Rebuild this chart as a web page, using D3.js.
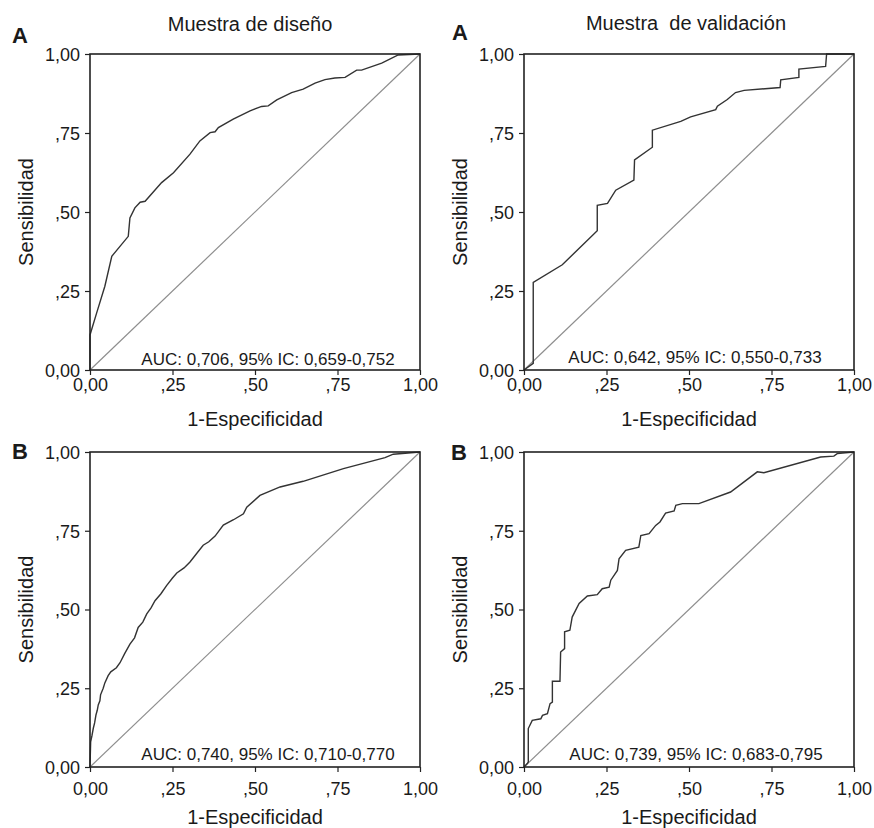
<!DOCTYPE html>
<html>
<head>
<meta charset="utf-8">
<script src="https://cdn.jsdelivr.net/npm/d3@7"></script>
<style>
  body { margin: 0; background: #fff; }
  text { font-family: "Liberation Sans", Arial, Helvetica, sans-serif; fill: #1a1a1a; }
</style>
</head>
<body>
<svg width="874" height="828"></svg>
<script>
// Ticks and labels (Spanish decimal comma)
const tickValues = [0, 0.25, 0.5, 0.75, 1];
const tickLabels = ['0,00', ',25', ',50', ',75', '1,00'];
const columnTitles = ['Muestra de diseño', 'Muestra  de validación'];
const rowLetters = ['A', 'B'];
const aucLabels = [
  'AUC: 0,706, 95% IC: 0,659-0,752',
  'AUC: 0,642, 95% IC: 0,550-0,733',
  'AUC: 0,740, 95% IC: 0,710-0,770',
  'AUC: 0,739, 95% IC: 0,683-0,795'
];

// ROC curves: [1-especificidad, sensibilidad]
const rocDisenoA = [[0,0],[0,0.111],[0.020,0.18],[0.045,0.265],[0.066,0.36],[0.116,0.423],[0.121,0.481],
  [0.136,0.513],[0.152,0.531],[0.167,0.534],[0.217,0.593],[0.253,0.624],[0.303,0.683],[0.333,0.725],
  [0.364,0.751],[0.379,0.754],[0.389,0.767],[0.434,0.794],[0.485,0.820],[0.520,0.834],[0.540,0.836],
  [0.566,0.855],[0.611,0.878],[0.646,0.889],[0.682,0.908],[0.712,0.919],[0.742,0.924],[0.773,0.926],
  [0.808,0.949],[0.823,0.949],[0.884,0.971],[0.934,0.997],[1,1]];

const rocValidA = [[0,0],[0.028,0.021],[0.028,0.277],[0.116,0.333],[0.222,0.441],[0.222,0.521],
  [0.253,0.527],[0.278,0.569],[0.333,0.601],[0.335,0.665],[0.389,0.705],[0.389,0.759],[0.475,0.787],
  [0.505,0.801],[0.581,0.824],[0.586,0.835],[0.616,0.856],[0.641,0.878],[0.667,0.885],[0.776,0.894],
  [0.778,0.918],[0.833,0.926],[0.833,0.952],[0.914,0.961],[0.917,1],[1,1]];

const rocDisenoB = [[0,0],[0.002,0.08],[0.006,0.10],[0.010,0.123],[0.014,0.14],[0.018,0.165],[0.022,0.18],
  [0.025,0.197],[0.030,0.21],[0.032,0.229],[0.040,0.25],[0.045,0.267],[0.055,0.29],[0.063,0.302],
  [0.080,0.315],[0.091,0.331],[0.105,0.36],[0.121,0.390],[0.135,0.41],[0.146,0.443],[0.160,0.46],
  [0.172,0.486],[0.185,0.505],[0.197,0.528],[0.215,0.55],[0.232,0.576],[0.250,0.60],[0.263,0.616],
  [0.285,0.632],[0.303,0.651],[0.325,0.68],[0.343,0.704],[0.360,0.715],[0.379,0.733],[0.404,0.768],
  [0.435,0.785],[0.465,0.804],[0.475,0.825],[0.515,0.862],[0.576,0.889],[0.646,0.907],[0.768,0.947],
  [0.894,0.982],[0.919,0.993],[1,1]];

const rocValidB = [[0,0],[0.010,0.011],[0.013,0.016],[0.013,0.122],[0.025,0.148],[0.051,0.153],
  [0.056,0.164],[0.071,0.169],[0.079,0.201],[0.086,0.206],[0.086,0.272],[0.109,0.272],[0.111,0.365],
  [0.123,0.376],[0.123,0.429],[0.139,0.434],[0.146,0.476],[0.167,0.519],[0.192,0.543],[0.222,0.547],
  [0.237,0.566],[0.258,0.571],[0.263,0.593],[0.283,0.624],[0.288,0.661],[0.308,0.688],[0.348,0.698],
  [0.354,0.735],[0.379,0.741],[0.399,0.767],[0.412,0.778],[0.429,0.806],[0.455,0.813],[0.460,0.831],
  [0.480,0.836],[0.530,0.836],[0.626,0.873],[0.707,0.937],[0.727,0.934],[0.899,0.984],[0.939,0.987],
  [0.949,0.995],[1,1]];

// Layout
const colLeft = [90, 524];
const rowTop = [54, 452];
const rowBottom = [370, 767];
const tickLabelY = [21, 28];      // baseline below axis
const axisTitleY = [56, 57];
const w = 330;

const panels = [
  {row: 0, col: 0, data: rocDisenoA, auc: aucLabels[0], aucX: 178, aucY: -5},
  {row: 0, col: 1, data: rocValidA,  auc: aucLabels[1], aucX: 171, aucY: -7},
  {row: 1, col: 0, data: rocDisenoB, auc: aucLabels[2], aucX: 178, aucY: -7},
  {row: 1, col: 1, data: rocValidB,  auc: aucLabels[3], aucX: 172, aucY: -7}
];

const svg = d3.select('svg');

panels.forEach(p => {
  const h = rowBottom[p.row] - rowTop[p.row];
  const x = d3.scaleLinear().domain([0, 1]).range([0, w]);
  const y = d3.scaleLinear().domain([0, 1]).range([h, 0]);
  const g = svg.append('g')
    .attr('transform', 'translate(' + colLeft[p.col] + ',' + rowTop[p.row] + ')');

  // reference diagonal
  g.append('path')
    .datum([[0, 0], [1, 1]])
    .attr('fill', 'none')
    .attr('stroke', '#8e8e8e')
    .attr('stroke-width', 1.2)
    .attr('d', d3.line().x(d => x(d[0])).y(d => y(d[1])));

  // roc curve
  g.append('path')
    .datum(p.data)
    .attr('fill', 'none')
    .attr('stroke', '#333')
    .attr('stroke-width', 1.4)
    .attr('d', d3.line().x(d => x(d[0])).y(d => y(d[1])));

  // frame
  g.append('rect')
    .attr('width', w).attr('height', h)
    .attr('fill', 'none')
    .attr('stroke', '#222')
    .attr('stroke-width', 1.6);

  const fmt = (d, i) => tickLabels[i];
  const xa = g.append('g').attr('transform', 'translate(0,' + h + ')')
    .call(d3.axisBottom(x).tickValues(tickValues).tickFormat(fmt).tickSize(5).tickSizeOuter(0));
  xa.select('.domain').remove();
  xa.selectAll('line').attr('stroke', '#222').attr('stroke-width', 1.2);
  xa.selectAll('text').attr('y', tickLabelY[p.row]).attr('dy', null)
    .style('font-size', '18px').attr('fill', '#1a1a1a');

  const ya = g.append('g')
    .call(d3.axisLeft(y).tickValues(tickValues).tickFormat(fmt).tickSize(5).tickSizeOuter(0));
  ya.select('.domain').remove();
  ya.selectAll('line').attr('stroke', '#222').attr('stroke-width', 1.2);
  ya.selectAll('text').attr('x', -10).attr('dy', '0.35em')
    .style('font-size', '18px').attr('fill', '#1a1a1a');

  // axis titles
  g.append('text')
    .attr('x', w / 2).attr('y', h + axisTitleY[p.row])
    .attr('text-anchor', 'middle')
    .style('font-size', '20px')
    .text('1-Especificidad');

  g.append('text')
    .attr('transform', 'translate(-57,' + (h / 2) + ') rotate(-90)')
    .attr('text-anchor', 'middle')
    .style('font-size', '20px')
    .text('Sensibilidad');

  // AUC note
  g.append('text')
    .attr('x', p.aucX).attr('y', h + p.aucY)
    .attr('text-anchor', 'middle')
    .style('font-size', '17px')
    .text(p.auc);
});

// column titles
svg.append('text').attr('x', 250).attr('y', 31).attr('text-anchor', 'middle')
  .style('font-size', '20px').text(columnTitles[0]);
svg.append('text').attr('x', 686).attr('y', 30).attr('text-anchor', 'middle')
  .style('font-size', '20px').style('white-space', 'pre').text(columnTitles[1]);

// row letters
const letterPos = [[12, 43, 0], [452, 40, 0], [12, 459, 1], [451, 460, 1]];
letterPos.forEach(d => {
  svg.append('text').attr('x', d[0]).attr('y', d[1])
    .style('font-size', '22px').style('font-weight', 'bold')
    .text(rowLetters[d[2]]);
});
</script>
</body>
</html>
